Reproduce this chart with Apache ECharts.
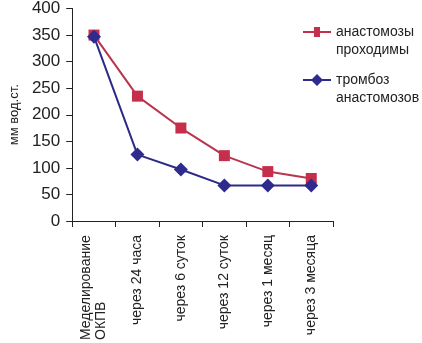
<!DOCTYPE html>
<html><head><meta charset="utf-8">
<script src="https://cdn.jsdelivr.net/npm/echarts@6/dist/echarts.min.js"></script>
<style>html,body{margin:0;padding:0;background:#fff}#c{width:422px;height:343px}</style>
</head><body><div id="c"></div>
<script>
var categories = ['Меделирование\nОКПВ', 'через 24 часа', 'через 6 суток', 'через 12 суток', 'через 1 месяц', 'через 3 месяца'];
var seriesNames = ['анастомозы\nпроходимы', 'тромбоз\nанастомозов'];
var patentValues = [350, 235, 175, 123, 93, 80];
var thrombosisValues = [347, 125, 97, 67, 67, 67];
var yTicks = [0, 50, 100, 150, 200, 250, 300, 350, 400];

var FONT = '"Liberation Sans Narrow", "Liberation Sans", Arial, sans-serif';
var legendText = {fontFamily: FONT, fontSize: 14, color: '#222', lineHeight: 18};
function legendFmt(name) { return '\n' + name; }
var icons = [
  'path://M0,5L11,5L11,1L17,1L17,5L28,5L28,7L17,7L17,11L11,11L11,7L0,7Z',
  'path://M0,5L9,5L14,0L19,5L28,5L28,7L19,7L14,12L9,7L0,7Z'
];
var measureCtx = document.createElement('canvas').getContext('2d');
function xLabelFmt(v) {
  var lines = v.split('\n');
  if (lines.length < 2) return v;
  measureCtx.font = '14px ' + FONT;
  var w = 0;
  lines.forEach(function (l) { w = Math.max(w, measureCtx.measureText(l).width); });
  xLabelRich.l.width = Math.ceil(w);
  return lines.map(function (l) { return '{l|' + l + '}'; }).join('\n');
}
var xLabelRich = {l: {fontFamily: FONT, fontSize: 14, color: '#222', lineHeight: 15, align: 'left', width: 100}};
var chart = echarts.init(document.getElementById('c'), null, {renderer: 'canvas'});
// pre-measure so rich width is set before rendering
xLabelFmt(categories[0]);
chart.setOption({
  animation: false,
  backgroundColor: '#fff',
  grid: {left: 62, right: 89, top: 7, bottom: 122, containLabel: false},
  legend: [
    {orient: 'vertical', left: 298, top: 0, itemWidth: 28, itemHeight: 12, itemGap: 10,
     data: [{name: seriesNames[0], icon: icons[0]}], formatter: legendFmt, textStyle: legendText},
    {orient: 'vertical', left: 298, top: 48, itemWidth: 28, itemHeight: 12, itemGap: 10,
     data: [{name: seriesNames[1], icon: icons[1]}], formatter: legendFmt, textStyle: legendText}
  ],
  xAxis: {
    type: 'category', data: categories, boundaryGap: true,
    axisLine: {lineStyle: {color: '#222', width: 1}},
    axisTick: {show: true, length: 6, lineStyle: {color: '#222'}},
    axisLabel: {rotate: 90, interval: 0, margin: 14, fontFamily: FONT, fontSize: 14, color: '#222', lineHeight: 15,
      formatter: xLabelFmt, rich: xLabelRich}
  },
  yAxis: {
    type: 'value', min: 0, max: 400, interval: 50,
    name: 'мм вод.ст.', nameLocation: 'middle', nameRotate: 90, nameGap: 42,
    nameTextStyle: {fontFamily: FONT, fontSize: 13, color: '#222'},
    axisLine: {show: true, lineStyle: {color: '#222', width: 1}},
    axisTick: {show: true, length: 6, lineStyle: {color: '#222'}},
    splitLine: {show: false},
    axisLabel: {fontFamily: FONT, fontSize: 17, color: '#222', margin: 12,
      formatter: function (v) { return yTicks.indexOf(v) >= 0 ? String(v) : ''; }}
  },
  series: [
    {name: seriesNames[0], type: 'line', data: patentValues, symbol: 'rect', symbolSize: 11,
     lineStyle: {color: '#b8354d', width: 2}, itemStyle: {color: '#c52f4c'}, z: 2},
    {name: seriesNames[1], type: 'line', data: thrombosisValues, symbol: 'diamond', symbolSize: [14, 14],
     lineStyle: {color: '#2d2a87', width: 2}, itemStyle: {color: '#2f2a8e'}, z: 3}
  ]
});
</script></body></html>
